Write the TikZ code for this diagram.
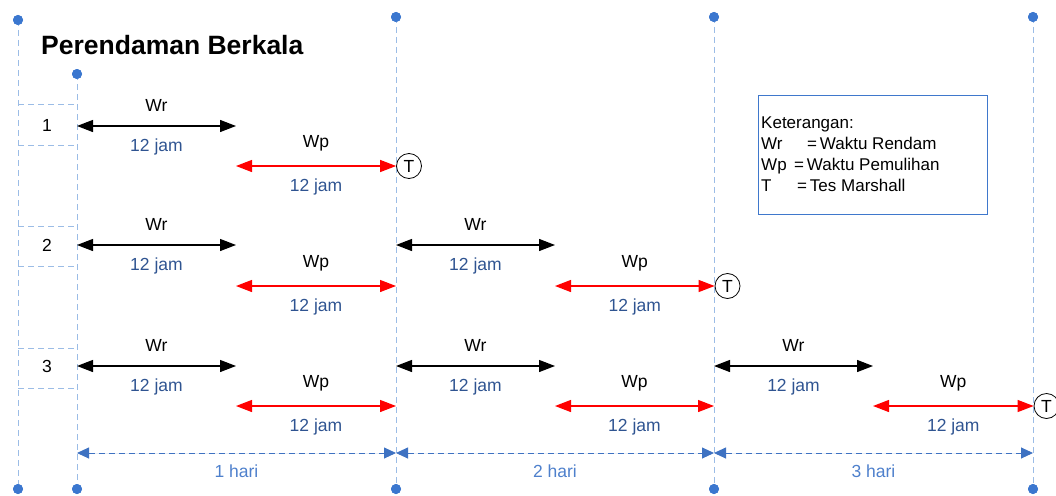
\documentclass[tikz,border=0pt]{standalone}
\usepackage{fontspec}
\setmainfont{Liberation Sans}
\usetikzlibrary{arrows.meta}
\definecolor{guide}{HTML}{9BBCE6}
\definecolor{dotc}{HTML}{3B77CF}
\definecolor{jamc}{HTML}{2F5491}
\definecolor{haric}{HTML}{4E80CC}
\definecolor{dimc}{HTML}{3E72C2}
\definecolor{legc}{HTML}{3F78CC}
\begin{document}
\begin{tikzpicture}[x=1pt,y=-1pt,
  guideline/.style={draw=guide, dash pattern=on 6pt off 4pt, line width=0.9pt},
  dotn/.style={circle, fill=dotc, inner sep=0pt, minimum size=10pt},
  wrarrow/.style={line width=1.3pt, {Triangle[length=16pt,width=12pt]}-{Triangle[length=16pt,width=12pt]}},
  wparrow/.style={red, line width=1.3pt, {Triangle[length=16pt,width=12pt]}-{Triangle[length=16pt,width=12pt]}},
  dimarrow/.style={draw=dimc, fill=dimc, dash pattern=on 6pt off 4pt, line width=0.9pt, {Triangle[length=12pt,width=11pt]}-{Triangle[length=12pt,width=11pt]}},
  lab/.style={font=\fontsize{17.5}{20}\selectfont, inner sep=0pt, text=black},
  jam/.style={lab, text=jamc},
  hari/.style={lab, text=haric},
  tnode/.style={circle, draw, line width=0.8pt, minimum size=25pt, inner sep=0pt, font=\fontsize{17.5}{20}\selectfont},
]
\useasboundingbox (0,0) rectangle (1056,495);

% guide dots
\node[dotn] (t0) at (18,20) {};
\node[dotn] (t1) at (77,74) {};
\node[dotn] (t2) at (396,17) {};
\node[dotn] (t3) at (714,17) {};
\node[dotn] (t4) at (1033,17) {};
\node[dotn] (b0) at (18,489) {};
\node[dotn] (b1) at (77,489) {};
\node[dotn] (b2) at (396,489) {};
\node[dotn] (b3) at (714,489) {};
\node[dotn] (b4) at (1033,489) {};
\foreach \i in {0,...,4} {\draw[guideline] (t\i.center) -- (b\i.center);}
\foreach \i in {0,...,4} {\fill[dotc] (t\i) circle (5pt); \fill[dotc] (b\i) circle (5pt);}

% row label boxes
\foreach \ya/\yb/\yc/\n in {104/145/125/1, 226/266/245/2, 348/388/366/3} {
  \draw[guideline] (18,\ya) -- (77,\ya);
  \draw[guideline] (18,\yb) -- (77,\yb);
  \node[lab] (n\n) at (47,\yc) {\n};
}

% title
\node[anchor=west, inner sep=0pt, font=\fontsize{26.5}{30}\selectfont\bfseries] (title) at (41,45) {Perendaman Berkala};

% coordinates
\coordinate (r1a) at (77,126); \coordinate (r1b) at (236,126);
\coordinate (p1a) at (236,166);
\node[tnode] (T1) at (409,166) {T};

\coordinate (r2a) at (77,245); \coordinate (r2b) at (236,245);
\coordinate (p2a) at (236,286); \coordinate (p2b) at (396,286);
\coordinate (r2c) at (396,245); \coordinate (r2d) at (555,245);
\coordinate (p2c) at (555,286);
\node[tnode] (T2) at (727.5,286) {T};

\coordinate (r3a) at (77,366); \coordinate (r3b) at (236,366);
\coordinate (p3a) at (236,406); \coordinate (p3b) at (396,406);
\coordinate (r3c) at (396,366); \coordinate (r3d) at (555,366);
\coordinate (p3c) at (555,406); \coordinate (p3d) at (714,406);
\coordinate (r3e) at (714,366); \coordinate (r3f) at (873,366);
\coordinate (p3e) at (873,406);
\node[tnode] (T3) at (1046.5,406) {T};

% Wr arrows
\foreach \a/\b in {r1a/r1b, r2a/r2b, r2c/r2d, r3a/r3b, r3c/r3d, r3e/r3f} {
  \draw[wrarrow] (\a) -- node[lab, above=14pt] {Wr} node[jam, below=12pt] {12 jam} (\b);
}
% Wp arrows
\foreach \a/\b in {p1a/T1, p2a/p2b, p2c/T2, p3a/p3b, p3c/p3d, p3e/T3} {
  \draw[wparrow] (\a) -- node[lab, above=14pt] {Wp} node[jam, below=12pt] {12 jam} (\b);
}

% day dimension lines
\coordinate (d0) at (77,453); \coordinate (d1) at (396,453);
\coordinate (d2) at (714,453); \coordinate (d3) at (1033,453);
\draw[dimarrow] (d0) -- node[hari, below=11pt] {1 hari} (d1);
\draw[dimarrow] (d1) -- node[hari, below=11pt] {2 hari} (d2);
\draw[dimarrow] (d2) -- node[hari, below=11pt] {3 hari} (d3);

% legend
\node[draw=legc, line width=1pt, minimum width=229pt, minimum height=119pt, anchor=north west, inner sep=0pt] (legbox) at (758,95) {};
\node[anchor=west, align=left, inner sep=0pt, font=\fontsize{17}{21}\selectfont] (legtext) at (761,154) {%
Keterangan:\\
\makebox[46pt][l]{Wr}=\,Waktu Rendam\\
\makebox[33pt][l]{Wp}=\,Waktu Pemulihan\\
\makebox[36pt][l]{T}=\,Tes Marshall};
\end{tikzpicture}
\end{document}
